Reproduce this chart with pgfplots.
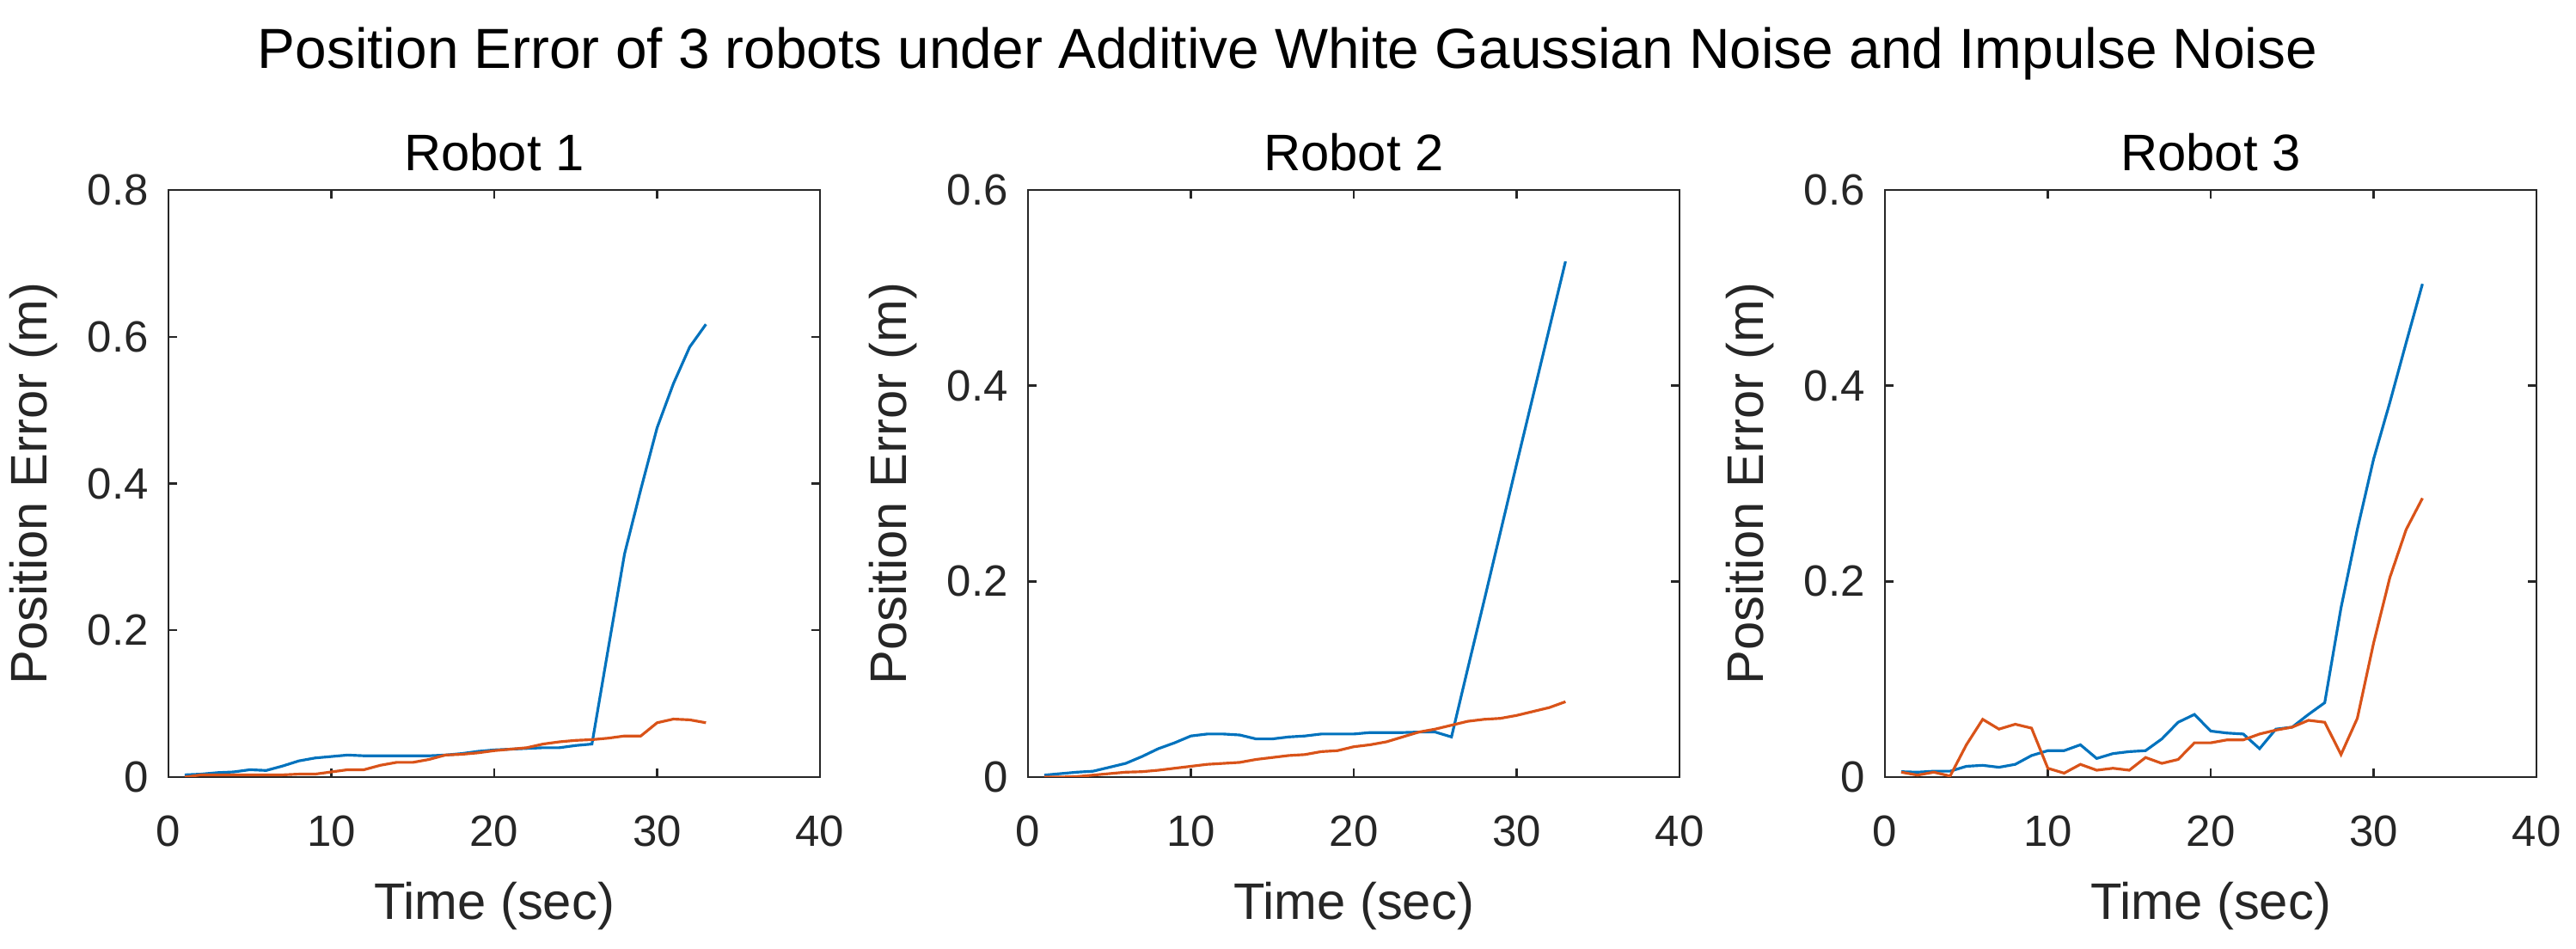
\documentclass[border=0pt]{standalone}
\usepackage{fontspec}
\setmainfont{Liberation Sans}
\usepackage{pgfplots}
\pgfplotsset{compat=1.18}
\usepackage{pgfplotstable}

\definecolor{mblue}{RGB}{0,114,189}
\definecolor{morange}{RGB}{217,83,25}
\definecolor{axgray}{RGB}{38,38,38}

% t, awgn (blue), impulse (orange)
\pgfplotstableread{
t b o
1 0.003 0.000
2 0.004 0.003
3 0.006 0.003
4 0.007 0.003
5 0.010 0.003
6 0.009 0.003
7 0.015 0.003
8 0.022 0.004
9 0.026 0.004
10 0.028 0.007
11 0.030 0.010
12 0.029 0.010
13 0.029 0.016
14 0.029 0.020
15 0.029 0.020
16 0.029 0.024
17 0.030 0.030
18 0.032 0.031
19 0.035 0.033
20 0.037 0.036
21 0.038 0.038
22 0.039 0.040
23 0.040 0.045
24 0.040 0.048
25 0.043 0.050
26 0.045 0.051
27 0.175 0.053
28 0.304 0.056
29 0.392 0.056
30 0.476 0.074
31 0.536 0.079
32 0.586 0.078
33 0.617 0.074
}\robotone

\pgfplotstableread{
t b o
1 0.002 0.000
2 0.0035 0.000
3 0.005 0.0005
4 0.006 0.002
5 0.010 0.0035
6 0.014 0.005
7 0.021 0.0055
8 0.029 0.007
9 0.035 0.009
10 0.042 0.011
11 0.044 0.013
12 0.044 0.014
13 0.043 0.015
14 0.039 0.018
15 0.039 0.020
16 0.041 0.022
17 0.042 0.023
18 0.044 0.026
19 0.044 0.027
20 0.044 0.031
21 0.0455 0.033
22 0.0455 0.036
23 0.0455 0.041
24 0.046 0.046
25 0.046 0.049
26 0.041 0.053
27 0.111 0.057
28 0.180 0.059
29 0.250 0.060
30 0.320 0.063
31 0.389 0.067
32 0.458 0.071
33 0.527 0.077
}\robottwo

\pgfplotstableread{
t b o
1 0.0055 0.005
2 0.005 0.002
3 0.006 0.005
4 0.006 0.001
5 0.011 0.033
6 0.012 0.059
7 0.010 0.049
8 0.013 0.054
9 0.022 0.050
10 0.027 0.009
11 0.027 0.004
12 0.033 0.013
13 0.019 0.007
14 0.024 0.009
15 0.026 0.007
16 0.027 0.020
17 0.039 0.014
18 0.056 0.018
19 0.064 0.035
20 0.047 0.035
21 0.045 0.038
22 0.044 0.038
23 0.029 0.044
24 0.049 0.048
25 0.051 0.051
26 0.064 0.058
27 0.076 0.056
28 0.173 0.023
29 0.253 0.060
30 0.325 0.137
31 0.383 0.204
32 0.444 0.253
33 0.504 0.285
}\robotthree

\pgfplotsset{
  robot/.style={
    scale only axis, width=7.58cm, height=6.83cm,
    anchor=south west,
    xmin=0, xmax=40, ymin=0,
    xtick={0,10,20,30,40}, ytick distance=0.2,
    tick align=inside, major tick length=0.1cm,
    axis line style={axgray, line width=0.7pt},
    every tick/.style={axgray, line width=0.7pt},
    /pgf/number format/assume math mode=true,
    tick label style={font=\fontsize{14.5}{17}\selectfont, text=axgray},
    xticklabel style={anchor=base, yshift=-0.81cm},
    yticklabel style={xshift=-0.11cm},
    xlabel={Time (sec)}, ylabel={Position Error (m)},
    label style={font=\fontsize{17}{20}\selectfont, text=axgray},
    xlabel style={at={(axis description cs:0.5,-0.243)}, anchor=base},
    ylabel style={at={(axis description cs:-0.207,0.5)}, anchor=center},
    title style={at={(axis description cs:0.5,1.002)}, anchor=base,
      font=\fontsize{17}{20}\selectfont},
  },
  awgn/.style={mblue, line width=0.9pt},
  imp/.style={morange, line width=0.9pt},
}

\begin{document}
\begin{tikzpicture}
\path[use as bounding box] (0,0) rectangle (29.97,11.04);

\node[anchor=base, font=\fontsize{18.7}{22}\selectfont] at (14.98,10.24)
  {Position Error of 3 robots under Additive White Gaussian Noise and Impulse Noise};

\begin{axis}[robot, at={(1.96cm,2.00cm)}, ymax=0.8, title={Robot 1}]
\addplot[awgn] table[x=t, y=b] {\robotone};
\addplot[imp] table[x=t, y=o] {\robotone};
\end{axis}

\begin{axis}[robot, at={(11.96cm,2.00cm)}, ymax=0.6, title={Robot 2}]
\addplot[awgn] table[x=t, y=b] {\robottwo};
\addplot[imp] table[x=t, y=o] {\robottwo};
\end{axis}

\begin{axis}[robot, at={(21.93cm,2.00cm)}, ymax=0.6, title={Robot 3}]
\addplot[awgn] table[x=t, y=b] {\robotthree};
\addplot[imp] table[x=t, y=o] {\robotthree};
\end{axis}
\end{tikzpicture}
\end{document}
